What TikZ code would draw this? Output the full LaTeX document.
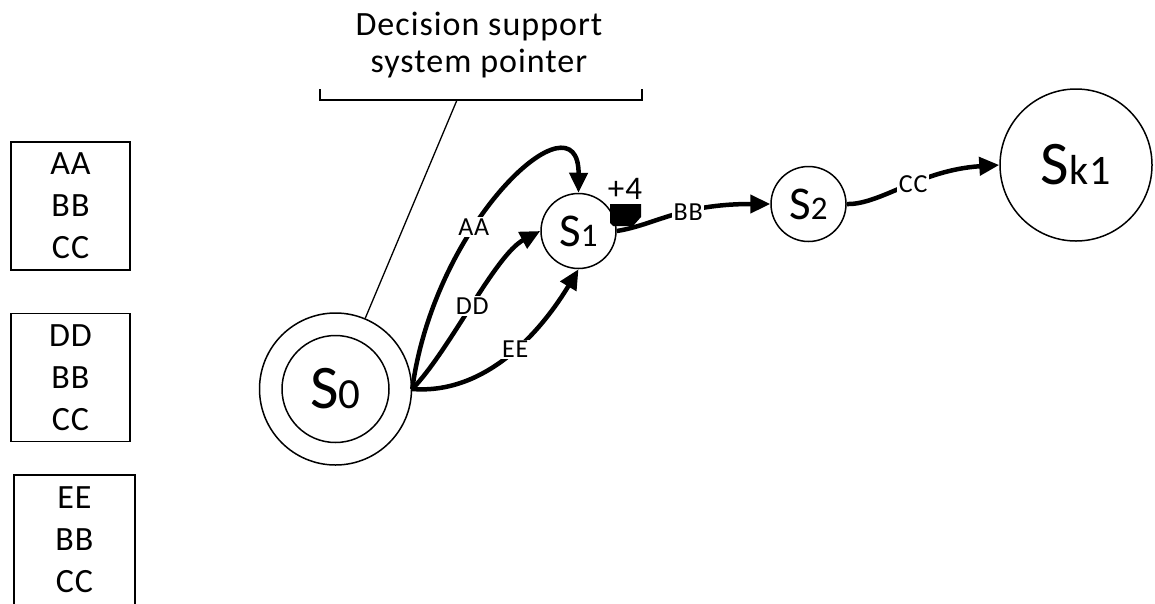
\documentclass[tikz,border=0pt]{standalone}
\usepackage{fontspec}
\setmainfont{Carlito}[LetterSpace=3.0]
\usetikzlibrary{arrows.meta}

% state name: large letter followed by a smaller index
\newcommand\stname[4]{{\fontsize{#3}{#3}\selectfont #1}{\fontsize{#4}{#4}\selectfont #2}}

\begin{document}
\begin{tikzpicture}[x=1pt,y=-1pt,
  state/.style={circle,draw,line width=1.5pt,inner sep=0pt},
  listbox/.style={draw,line width=1.8pt,inner sep=0pt,align=center,
                  font=\fontsize{34}{42}\selectfont},
  trans/.style={line width=4.5pt,-{Triangle[length=20pt,width=18pt]}},
  elabel/.style={fill=white,inner sep=1.5pt,font=\fontsize{26}{26}\selectfont},
  pointer/.style={line width=1.3pt},
]
\useasboundingbox (0,0) rectangle (1155,603);

% sequence lists
\node[listbox,minimum width=119pt,minimum height=128pt] (l1) at (70.5,206) {AA\\BB\\CC};
\node[listbox,minimum width=119pt,minimum height=128pt] (l2) at (70.5,377.5) {DD\\BB\\CC};
\node[listbox,minimum width=121pt,minimum height=130pt] (l3) at (74.5,540) {EE\\BB\\CC};

% states
\node[state,minimum size=152pt] (s0) at (335.5,389) {\stname{S}{0}{62}{43}};
\node[state,minimum size=107pt] (s0in) at (s0.center) {};
\node[state,minimum size=75pt] (s1) at (578.5,231) {\stname{S}{1}{47}{33}};
\node[state,minimum size=75pt] (s2) at (808.5,204) {\stname{S}{2}{47}{33}};
\node[state,minimum size=152pt] (sk) at (1076,165) {\stname{S}{k1}{62}{42}};

% pointer with bracket and caption
\node[font=\fontsize{34}{37}\selectfont,align=center,inner sep=0pt] (title) at (479,45)
  {Decision support\\system pointer};
\coordinate (bl) at (320,89);
\coordinate (br) at (642,89);
\coordinate (ptr) at (457,100);
\draw[pointer] (bl) -- (bl |- ptr) -- (br |- ptr) -- (br);
\draw[pointer] (ptr) -- (s0);

% transitions
\draw[trans] (s0.east) .. controls (435,220) and (579,90) .. (s1.north)
  node[elabel,pos=0.37] (laa) {AA};
\draw[trans] (s0.east) .. controls (450,350) and (495,255) .. (s1.west)
  node[elabel,pos=0.49] (ldd) {DD};
\draw[trans] (s0.east) .. controls (490,395) and (545,325) .. (s1.south)
  node[elabel,pos=0.52] (lee) {EE};
\draw[trans] (s1.east) .. controls (655,225) and (680,204) .. (s2.west)
  node[elabel,pos=0.6] (lbb) {BB};
\draw[trans] (s2.east) .. controls (880,205) and (920,170) .. (sk.west)
  node[elabel,pos=0.55] (lcc) {CC};

% reward marker on the outgoing transition of S1
\node[font=\fontsize{33}{33}\selectfont,inner sep=0pt] (gain) at (625,189) {+4};
\fill (610,204) -- (641,204) -- (641,217) -- (633,226) -- (613,226)
  -- (610,223) -- cycle;
\end{tikzpicture}
\end{document}
